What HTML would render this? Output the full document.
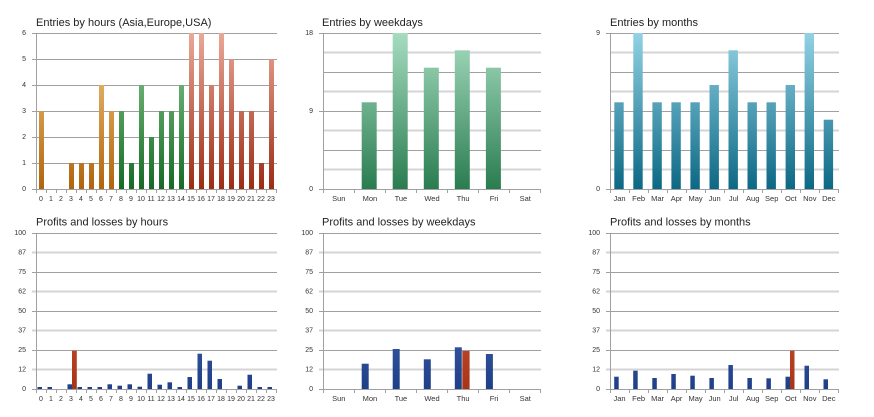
<!DOCTYPE html>
<html>
<head>
<meta charset="utf-8">
<style>
  html,body{margin:0;padding:0;background:#fff;}
  svg{display:block;}
  .t{font-family:"Liberation Sans",Arial,sans-serif;font-size:11px;fill:#222;}
  .yl{font-family:"Liberation Sans",Arial,sans-serif;font-size:7px;fill:#333;text-anchor:end;dominant-baseline:middle;}
  .xl{font-family:"Liberation Sans",Arial,sans-serif;font-size:7px;fill:#333;text-anchor:middle;}
  .xw{font-family:"Liberation Sans",Arial,sans-serif;font-size:7.5px;fill:#333;text-anchor:middle;}
  .g{stroke:#a0a0a0;stroke-width:1;}
  .m{stroke:#d4d4d4;stroke-width:2;}
  .ax{stroke:#a0a0a0;stroke-width:1;}
</style>
</head>
<body>
<svg width="874" height="417" viewBox="0 0 874 417" xmlns="http://www.w3.org/2000/svg">
<defs>
  <linearGradient id="gO" gradientUnits="userSpaceOnUse" x1="0" y1="33" x2="0" y2="189">
    <stop offset="0" stop-color="#f8cf88"/><stop offset="1" stop-color="#b0640c"/>
  </linearGradient>
  <linearGradient id="gG" gradientUnits="userSpaceOnUse" x1="0" y1="33" x2="0" y2="189">
    <stop offset="0" stop-color="#8fd094"/><stop offset="1" stop-color="#166a26"/>
  </linearGradient>
  <linearGradient id="gR" gradientUnits="userSpaceOnUse" x1="0" y1="33" x2="0" y2="189">
    <stop offset="0" stop-color="#eaa898"/><stop offset="1" stop-color="#9c2c14"/>
  </linearGradient>
  <linearGradient id="gW" gradientUnits="userSpaceOnUse" x1="0" y1="33" x2="0" y2="189">
    <stop offset="0" stop-color="#a6dcc0"/><stop offset="1" stop-color="#2a7c50"/>
  </linearGradient>
  <linearGradient id="gM" gradientUnits="userSpaceOnUse" x1="0" y1="33" x2="0" y2="189">
    <stop offset="0" stop-color="#92d2e4"/><stop offset="1" stop-color="#0c6884"/>
  </linearGradient>
  <linearGradient id="gB" gradientUnits="userSpaceOnUse" x1="0" y1="233" x2="0" y2="389">
    <stop offset="0" stop-color="#5a82cc"/><stop offset="1" stop-color="#1f3f88"/>
  </linearGradient>
  <linearGradient id="gL" gradientUnits="userSpaceOnUse" x1="0" y1="233" x2="0" y2="389">
    <stop offset="0" stop-color="#e07050"/><stop offset="1" stop-color="#a83418"/>
  </linearGradient>
</defs>

<!-- ================= TOP LEFT: Entries by hours ================= -->
<text class="t" x="36" y="26">Entries by hours (Asia,Europe,USA)</text>
<g>
  <line class="g" x1="32" y1="33.5" x2="277" y2="33.5"/>
  <line class="g" x1="32" y1="59.5" x2="277" y2="59.5"/>
  <line class="g" x1="32" y1="85.5" x2="277" y2="85.5"/>
  <line class="g" x1="32" y1="111.5" x2="277" y2="111.5"/>
  <line class="g" x1="32" y1="137.5" x2="277" y2="137.5"/>
  <line class="g" x1="32" y1="163.5" x2="277" y2="163.5"/>
  <line class="g" x1="32" y1="189.5" x2="277" y2="189.5"/>
</g>
<g>
  <text class="yl" x="26" y="33">6</text>
  <text class="yl" x="26" y="59">5</text>
  <text class="yl" x="26" y="85">4</text>
  <text class="yl" x="26" y="111">3</text>
  <text class="yl" x="26" y="137">2</text>
  <text class="yl" x="26" y="163">1</text>
  <text class="yl" x="26" y="189">0</text>
</g>
<g fill="url(#gO)">
  <rect x="39" y="111" width="5" height="78"/>
  <rect x="69" y="163" width="5" height="26"/>
  <rect x="79" y="163" width="5" height="26"/>
  <rect x="89" y="163" width="5" height="26"/>
  <rect x="99" y="85" width="5" height="104"/>
  <rect x="109" y="111" width="5" height="78"/>
</g>
<g fill="url(#gG)">
  <rect x="119" y="111" width="5" height="78"/>
  <rect x="129" y="163" width="5" height="26"/>
  <rect x="139" y="85" width="5" height="104"/>
  <rect x="149" y="137" width="5" height="52"/>
  <rect x="159" y="111" width="5" height="78"/>
  <rect x="169" y="111" width="5" height="78"/>
  <rect x="179" y="85" width="5" height="104"/>
</g>
<g fill="url(#gR)">
  <rect x="189" y="33" width="5" height="156"/>
  <rect x="199" y="33" width="5" height="156"/>
  <rect x="209" y="85" width="5" height="104"/>
  <rect x="219" y="33" width="5" height="156"/>
  <rect x="229" y="59" width="5" height="130"/>
  <rect x="239" y="111" width="5" height="78"/>
  <rect x="249" y="111" width="5" height="78"/>
  <rect x="259" y="163" width="5" height="26"/>
  <rect x="269" y="59" width="5" height="130"/>
</g>
<line class="ax" x1="36.5" y1="33" x2="36.5" y2="193"/>
<path class="ax" fill="none" d="M46.5 189v4M56.5 189v4M66.5 189v4M76.5 189v4M86.5 189v4M96.5 189v4M106.5 189v4M116.5 189v4M126.5 189v4M136.5 189v4M146.5 189v4M156.5 189v4M166.5 189v4M176.5 189v4M186.5 189v4M196.5 189v4M206.5 189v4M216.5 189v4M226.5 189v4M236.5 189v4M246.5 189v4M256.5 189v4M266.5 189v4M276.5 189v4"/>
<g>
  <text class="xl" x="41" y="201">0</text><text class="xl" x="51" y="201">1</text><text class="xl" x="61" y="201">2</text><text class="xl" x="71" y="201">3</text><text class="xl" x="81" y="201">4</text><text class="xl" x="91" y="201">5</text><text class="xl" x="101" y="201">6</text><text class="xl" x="111" y="201">7</text><text class="xl" x="121" y="201">8</text><text class="xl" x="131" y="201">9</text><text class="xl" x="141" y="201">10</text><text class="xl" x="151" y="201">11</text><text class="xl" x="161" y="201">12</text><text class="xl" x="171" y="201">13</text><text class="xl" x="181" y="201">14</text><text class="xl" x="191" y="201">15</text><text class="xl" x="201" y="201">16</text><text class="xl" x="211" y="201">17</text><text class="xl" x="221" y="201">18</text><text class="xl" x="231" y="201">19</text><text class="xl" x="241" y="201">20</text><text class="xl" x="251" y="201">21</text><text class="xl" x="261" y="201">22</text><text class="xl" x="271" y="201">23</text>
</g>

<!-- ================= TOP MIDDLE: Entries by weekdays ================= -->
<text class="t" x="322" y="26">Entries by weekdays</text>
<g>
  <line class="g" x1="319" y1="33.5" x2="541" y2="33.5"/>
  <line class="m" x1="323" y1="52.5" x2="541" y2="52.5"/>
  <line class="g" x1="323" y1="72.5" x2="541" y2="72.5"/>
  <line class="m" x1="323" y1="91.5" x2="541" y2="91.5"/>
  <line class="g" x1="319" y1="111.5" x2="541" y2="111.5"/>
  <line class="m" x1="323" y1="130.5" x2="541" y2="130.5"/>
  <line class="g" x1="323" y1="150.5" x2="541" y2="150.5"/>
  <line class="m" x1="323" y1="169.5" x2="541" y2="169.5"/>
  <line class="g" x1="319" y1="189.5" x2="541" y2="189.5"/>
</g>
<g>
  <text class="yl" x="313" y="33">18</text>
  <text class="yl" x="313" y="111">9</text>
  <text class="yl" x="313" y="189">0</text>
</g>
<g fill="url(#gW)">
  <rect x="361.7" y="102.3" width="15" height="86.7"/>
  <rect x="392.7" y="33" width="15" height="156"/>
  <rect x="423.8" y="67.7" width="15" height="121.3"/>
  <rect x="454.8" y="50.3" width="15" height="138.7"/>
  <rect x="485.9" y="67.7" width="15" height="121.3"/>
</g>
<line class="ax" x1="323.5" y1="33" x2="323.5" y2="193"/>
<path class="ax" fill="none" d="M354.5 189v4M385.5 189v4M416.5 189v4M447.5 189v4M478.5 189v4M509.5 189v4M540.5 189v4"/>
<g>
  <text class="xw" x="338.8" y="201">Sun</text><text class="xw" x="369.9" y="201">Mon</text><text class="xw" x="400.9" y="201">Tue</text><text class="xw" x="432" y="201">Wed</text><text class="xw" x="463.1" y="201">Thu</text><text class="xw" x="494.1" y="201">Fri</text><text class="xw" x="525.2" y="201">Sat</text>
</g>

<!-- ================= TOP RIGHT: Entries by months ================= -->
<text class="t" x="610" y="26">Entries by months</text>
<g>
  <line class="g" x1="606" y1="33.5" x2="839" y2="33.5"/>
  <line class="m" x1="610" y1="52.5" x2="839" y2="52.5"/>
  <line class="g" x1="610" y1="72.5" x2="839" y2="72.5"/>
  <line class="m" x1="610" y1="91.5" x2="839" y2="91.5"/>
  <line class="g" x1="610" y1="111.5" x2="839" y2="111.5"/>
  <line class="m" x1="610" y1="130.5" x2="839" y2="130.5"/>
  <line class="g" x1="610" y1="150.5" x2="839" y2="150.5"/>
  <line class="m" x1="610" y1="169.5" x2="839" y2="169.5"/>
  <line class="g" x1="606" y1="189.5" x2="839" y2="189.5"/>
</g>
<g>
  <text class="yl" x="600" y="33">9</text>
  <text class="yl" x="600" y="189">0</text>
</g>
<g fill="url(#gM)">
  <rect x="614.3" y="102.3" width="9.4" height="86.7"/>
  <rect x="633.3" y="33" width="9.4" height="156"/>
  <rect x="652.4" y="102.3" width="9.4" height="86.7"/>
  <rect x="671.4" y="102.3" width="9.4" height="86.7"/>
  <rect x="690.4" y="102.3" width="9.4" height="86.7"/>
  <rect x="709.5" y="85" width="9.4" height="104"/>
  <rect x="728.5" y="50.3" width="9.4" height="138.7"/>
  <rect x="747.5" y="102.3" width="9.4" height="86.7"/>
  <rect x="766.5" y="102.3" width="9.4" height="86.7"/>
  <rect x="785.6" y="85" width="9.4" height="104"/>
  <rect x="804.6" y="33" width="9.4" height="156"/>
  <rect x="823.7" y="119.7" width="9.4" height="69.3"/>
</g>
<line class="ax" x1="610.5" y1="33" x2="610.5" y2="193"/>
<path class="ax" fill="none" d="M629.5 189v4M648.5 189v4M667.5 189v4M686.5 189v4M705.5 189v4M724.5 189v4M743.5 189v4M762.5 189v4M781.5 189v4M800.5 189v4M819.5 189v4M838.5 189v4"/>
<g>
  <text class="xw" x="619.5" y="201">Jan</text><text class="xw" x="638.6" y="201">Feb</text><text class="xw" x="657.6" y="201">Mar</text><text class="xw" x="676.6" y="201">Apr</text><text class="xw" x="695.6" y="201">May</text><text class="xw" x="714.7" y="201">Jun</text><text class="xw" x="733.7" y="201">Jul</text><text class="xw" x="752.7" y="201">Aug</text><text class="xw" x="771.7" y="201">Sep</text><text class="xw" x="790.8" y="201">Oct</text><text class="xw" x="809.8" y="201">Nov</text><text class="xw" x="828.8" y="201">Dec</text>
</g>

<!-- ================= BOTTOM LEFT: Profits and losses by hours ================= -->
<text class="t" x="36" y="225.5">Profits and losses by hours</text>
<g>
  <line class="g" x1="32" y1="233.5" x2="277" y2="233.5"/>
  <line class="m" x1="32" y1="252.5" x2="277" y2="252.5"/>
  <line class="g" x1="32" y1="272.5" x2="277" y2="272.5"/>
  <line class="m" x1="32" y1="291.5" x2="277" y2="291.5"/>
  <line class="g" x1="32" y1="311.5" x2="277" y2="311.5"/>
  <line class="m" x1="32" y1="330.5" x2="277" y2="330.5"/>
  <line class="g" x1="32" y1="350.5" x2="277" y2="350.5"/>
  <line class="m" x1="32" y1="369.5" x2="277" y2="369.5"/>
  <line class="g" x1="32" y1="389.5" x2="277" y2="389.5"/>
</g>
<g>
  <text class="yl" x="26" y="233">100</text>
  <text class="yl" x="26" y="252.5">87</text>
  <text class="yl" x="26" y="272">75</text>
  <text class="yl" x="26" y="291.5">62</text>
  <text class="yl" x="26" y="311">50</text>
  <text class="yl" x="26" y="330.5">37</text>
  <text class="yl" x="26" y="350">25</text>
  <text class="yl" x="26" y="369.5">12</text>
  <text class="yl" x="26" y="389">0</text>
</g>
<g fill="url(#gB)">
  <rect x="37.5" y="387" width="4.5" height="2"/>
  <rect x="47.5" y="387" width="4.5" height="2"/>
  <rect x="67.5" y="384.3" width="4.5" height="4.7"/>
  <rect x="77.5" y="387" width="4.5" height="2"/>
  <rect x="87.5" y="387" width="4.5" height="2"/>
  <rect x="97.5" y="387" width="4.5" height="2"/>
  <rect x="107.5" y="384.3" width="4.5" height="4.7"/>
  <rect x="117.5" y="385.7" width="4.5" height="3.3"/>
  <rect x="127.5" y="384.3" width="4.5" height="4.7"/>
  <rect x="137.5" y="386.7" width="4.5" height="2.3"/>
  <rect x="147.5" y="373.7" width="4.5" height="15.3"/>
  <rect x="157.5" y="384.7" width="4.5" height="4.3"/>
  <rect x="167.5" y="382.3" width="4.5" height="6.7"/>
  <rect x="177.5" y="387" width="4.5" height="2"/>
  <rect x="187.5" y="377" width="4.5" height="12"/>
  <rect x="197.5" y="353.7" width="4.5" height="35.3"/>
  <rect x="207.5" y="360.7" width="4.5" height="28.3"/>
  <rect x="217.5" y="379" width="4.5" height="10"/>
  <rect x="237.5" y="385.7" width="4.5" height="3.3"/>
  <rect x="247.5" y="374.7" width="4.5" height="14.3"/>
  <rect x="257.5" y="387" width="4.5" height="2"/>
  <rect x="267.5" y="387" width="4.5" height="2"/>
</g>
<g fill="url(#gL)">
  <rect x="72" y="350.7" width="4.8" height="38.3"/>
</g>
<line class="ax" x1="36.5" y1="233" x2="36.5" y2="393"/>
<path class="ax" fill="none" d="M46.5 389v4M56.5 389v4M66.5 389v4M76.5 389v4M86.5 389v4M96.5 389v4M106.5 389v4M116.5 389v4M126.5 389v4M136.5 389v4M146.5 389v4M156.5 389v4M166.5 389v4M176.5 389v4M186.5 389v4M196.5 389v4M206.5 389v4M216.5 389v4M226.5 389v4M236.5 389v4M246.5 389v4M256.5 389v4M266.5 389v4M276.5 389v4"/>
<g>
  <text class="xl" x="41" y="401">0</text><text class="xl" x="51" y="401">1</text><text class="xl" x="61" y="401">2</text><text class="xl" x="71" y="401">3</text><text class="xl" x="81" y="401">4</text><text class="xl" x="91" y="401">5</text><text class="xl" x="101" y="401">6</text><text class="xl" x="111" y="401">7</text><text class="xl" x="121" y="401">8</text><text class="xl" x="131" y="401">9</text><text class="xl" x="141" y="401">10</text><text class="xl" x="151" y="401">11</text><text class="xl" x="161" y="401">12</text><text class="xl" x="171" y="401">13</text><text class="xl" x="181" y="401">14</text><text class="xl" x="191" y="401">15</text><text class="xl" x="201" y="401">16</text><text class="xl" x="211" y="401">17</text><text class="xl" x="221" y="401">18</text><text class="xl" x="231" y="401">19</text><text class="xl" x="241" y="401">20</text><text class="xl" x="251" y="401">21</text><text class="xl" x="261" y="401">22</text><text class="xl" x="271" y="401">23</text>
</g>

<!-- ================= BOTTOM MIDDLE: Profits and losses by weekdays ================= -->
<text class="t" x="322" y="225.5">Profits and losses by weekdays</text>
<g>
  <line class="g" x1="319" y1="233.5" x2="541" y2="233.5"/>
  <line class="m" x1="319" y1="252.5" x2="541" y2="252.5"/>
  <line class="g" x1="319" y1="272.5" x2="541" y2="272.5"/>
  <line class="m" x1="319" y1="291.5" x2="541" y2="291.5"/>
  <line class="g" x1="319" y1="311.5" x2="541" y2="311.5"/>
  <line class="m" x1="319" y1="330.5" x2="541" y2="330.5"/>
  <line class="g" x1="319" y1="350.5" x2="541" y2="350.5"/>
  <line class="m" x1="319" y1="369.5" x2="541" y2="369.5"/>
  <line class="g" x1="319" y1="389.5" x2="541" y2="389.5"/>
</g>
<g>
  <text class="yl" x="313" y="233">100</text>
  <text class="yl" x="313" y="252.5">87</text>
  <text class="yl" x="313" y="272">75</text>
  <text class="yl" x="313" y="291.5">62</text>
  <text class="yl" x="313" y="311">50</text>
  <text class="yl" x="313" y="330.5">37</text>
  <text class="yl" x="313" y="350">25</text>
  <text class="yl" x="313" y="369.5">12</text>
  <text class="yl" x="313" y="389">0</text>
</g>
<g fill="url(#gB)">
  <rect x="361.7" y="363.7" width="7" height="25.3"/>
  <rect x="392.7" y="349" width="7" height="40"/>
  <rect x="423.8" y="359.3" width="7" height="29.7"/>
  <rect x="454.8" y="347.3" width="7" height="41.7"/>
  <rect x="485.9" y="354" width="7" height="35"/>
</g>
<g fill="url(#gL)">
  <rect x="462.3" y="351" width="7.3" height="38"/>
</g>
<line class="ax" x1="323.5" y1="233" x2="323.5" y2="393"/>
<path class="ax" fill="none" d="M354.5 389v4M385.5 389v4M416.5 389v4M447.5 389v4M478.5 389v4M509.5 389v4M540.5 389v4"/>
<g>
  <text class="xw" x="338.8" y="401">Sun</text><text class="xw" x="369.9" y="401">Mon</text><text class="xw" x="400.9" y="401">Tue</text><text class="xw" x="432" y="401">Wed</text><text class="xw" x="463.1" y="401">Thu</text><text class="xw" x="494.1" y="401">Fri</text><text class="xw" x="525.2" y="401">Sat</text>
</g>

<!-- ================= BOTTOM RIGHT: Profits and losses by months ================= -->
<text class="t" x="610" y="225.5">Profits and losses by months</text>
<g>
  <line class="g" x1="606" y1="233.5" x2="839" y2="233.5"/>
  <line class="m" x1="606" y1="252.5" x2="839" y2="252.5"/>
  <line class="g" x1="606" y1="272.5" x2="839" y2="272.5"/>
  <line class="m" x1="606" y1="291.5" x2="839" y2="291.5"/>
  <line class="g" x1="606" y1="311.5" x2="839" y2="311.5"/>
  <line class="m" x1="606" y1="330.5" x2="839" y2="330.5"/>
  <line class="g" x1="606" y1="350.5" x2="839" y2="350.5"/>
  <line class="m" x1="606" y1="369.5" x2="839" y2="369.5"/>
  <line class="g" x1="606" y1="389.5" x2="839" y2="389.5"/>
</g>
<g>
  <text class="yl" x="600" y="233">100</text>
  <text class="yl" x="600" y="252.5">87</text>
  <text class="yl" x="600" y="272">75</text>
  <text class="yl" x="600" y="291.5">62</text>
  <text class="yl" x="600" y="311">50</text>
  <text class="yl" x="600" y="330.5">37</text>
  <text class="yl" x="600" y="350">25</text>
  <text class="yl" x="600" y="369.5">12</text>
  <text class="yl" x="600" y="389">0</text>
</g>
<g fill="url(#gB)">
  <rect x="614.2" y="376.7" width="4.5" height="12.3"/>
  <rect x="633.2" y="370.7" width="4.5" height="18.3"/>
  <rect x="652.3" y="378" width="4.5" height="11"/>
  <rect x="671.3" y="374" width="4.5" height="15"/>
  <rect x="690.3" y="375.7" width="4.5" height="13.3"/>
  <rect x="709.4" y="378" width="4.5" height="11"/>
  <rect x="728.4" y="365" width="4.5" height="24"/>
  <rect x="747.4" y="378" width="4.5" height="11"/>
  <rect x="766.4" y="378.3" width="4.5" height="10.7"/>
  <rect x="785.5" y="376.7" width="4.5" height="12.3"/>
  <rect x="804.5" y="365.7" width="4.5" height="23.3"/>
  <rect x="823.5" y="379.3" width="4.5" height="9.7"/>
</g>
<g fill="url(#gL)">
  <rect x="790" y="350.7" width="4.5" height="38.3"/>
</g>
<line class="ax" x1="610.5" y1="233" x2="610.5" y2="393"/>
<path class="ax" fill="none" d="M629.5 389v4M648.5 389v4M667.5 389v4M686.5 389v4M705.5 389v4M724.5 389v4M743.5 389v4M762.5 389v4M781.5 389v4M800.5 389v4M819.5 389v4M838.5 389v4"/>
<g>
  <text class="xw" x="619.5" y="401">Jan</text><text class="xw" x="638.6" y="401">Feb</text><text class="xw" x="657.6" y="401">Mar</text><text class="xw" x="676.6" y="401">Apr</text><text class="xw" x="695.6" y="401">May</text><text class="xw" x="714.7" y="401">Jun</text><text class="xw" x="733.7" y="401">Jul</text><text class="xw" x="752.7" y="401">Aug</text><text class="xw" x="771.7" y="401">Sep</text><text class="xw" x="790.8" y="401">Oct</text><text class="xw" x="809.8" y="401">Nov</text><text class="xw" x="828.8" y="401">Dec</text>
</g>
</svg>
</body>
</html>
